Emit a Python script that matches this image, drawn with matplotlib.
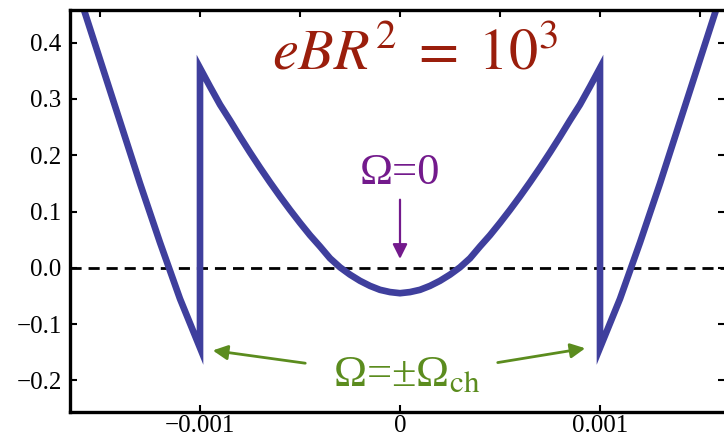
import matplotlib
matplotlib.use("Agg")
import matplotlib.pyplot as plt
import numpy as np

plt.rcParams["mathtext.fontset"] = "stix"
plt.rcParams["font.family"] = ["Liberation Serif", "DejaVu Serif"]

# energy curve, x in units of 1e-3 (left half, right half mirrors it)
x_left = [-1.60, -1.50, -1.40, -1.30, -1.20, -1.10, -1.00,
          -1.00, -0.95, -0.90, -0.85, -0.80, -0.75, -0.70, -0.65, -0.60,
          -0.55, -0.50, -0.45, -0.40, -0.35, -0.30, -0.25, -0.20, -0.15,
          -0.10, -0.05, 0.00]
y_left = [0.480, 0.370, 0.260, 0.150, 0.045, -0.055, -0.142,
          0.355, 0.322, 0.290, 0.262, 0.233, 0.205, 0.178, 0.152, 0.127,
          0.103, 0.080, 0.058, 0.038, 0.017, 0.001, -0.012, -0.023, -0.032,
          -0.039, -0.043, -0.045]
x_right = [0.05, 0.10, 0.15, 0.20, 0.25, 0.30, 0.35, 0.40, 0.45, 0.50,
           0.55, 0.60, 0.65, 0.70, 0.75, 0.80, 0.85, 0.90, 0.95, 1.00,
           1.00, 1.10, 1.20, 1.30, 1.40, 1.50, 1.60]
y_right = [-0.043, -0.039, -0.032, -0.023, -0.012, 0.001, 0.017, 0.038, 0.058, 0.080,
           0.103, 0.127, 0.152, 0.178, 0.205, 0.233, 0.262, 0.290, 0.322, 0.355,
           -0.142, -0.055, 0.045, 0.150, 0.260, 0.370, 0.480]

xs = np.array(x_left + x_right) * 1e-3
ys = np.array(y_left + y_right)

fig = plt.figure(figsize=(7.24, 4.40), dpi=100)
ax = fig.add_axes([70 / 724, 28 / 440, 655 / 724, 402 / 440])

ax.axhline(0, color="black", lw=2, ls=(0, (4, 2.5)), zorder=1)
ax.plot(xs, ys, color="#3f3f9d", lw=4.8, solid_joinstyle="miter", zorder=2)

ax.set_xlim(-1.65e-3, 1.625e-3)
ax.set_ylim(-0.256, 0.458)

ax.set_xticks([-0.001, 0, 0.001])
ax.set_xticklabels(["\u22120.001", "0", "0.001"])
ax.set_xticks([-0.0015, -0.0005, 0.0005, 0.0015], minor=True)
ax.set_yticks([-0.2, -0.1, 0.0, 0.1, 0.2, 0.3, 0.4])
ax.set_yticklabels(["\u22120.2", "\u22120.1", "0.0", "0.1", "0.2", "0.3", "0.4"])
ax.tick_params(which="both", direction="in", length=5, width=1.5,
               top=True, right=True, labelsize=18, pad=6)
ax.tick_params(axis="x", pad=2)
ax.tick_params(which="minor", bottom=False)
for s in ax.spines.values():
    s.set_linewidth(2.4)

ax.text(0.075e-3, 0.378, r"$eBR^{2}\;=\;10^{3}$", color="#9a1e0c", fontsize=42,
        ha="center", va="center")

purple = "#731a8c"
ax.text(0, 0.168, "\u03a9=0", color=purple, fontsize=32,
        ha="center", va="center")
ax.annotate("", xy=(0, 0.011), xytext=(0, 0.126),
            arrowprops=dict(arrowstyle="-|>", color=purple, lw=1.6,
                            mutation_scale=22))

green = "#5b8c1e"
ax.text(0.035e-3, -0.19, "\u03a9=\u00b1\u03a9$_{\\rm ch}$", color=green,
        fontsize=32, ha="center", va="center")
ax.annotate("", xy=(-0.95e-3, -0.146), xytext=(-0.46e-3, -0.170),
            arrowprops=dict(arrowstyle="-|>", color=green, lw=2,
                            mutation_scale=22))
ax.annotate("", xy=(0.94e-3, -0.142), xytext=(0.475e-3, -0.169),
            arrowprops=dict(arrowstyle="-|>", color=green, lw=2,
                            mutation_scale=22))

fig.savefig("out.png", dpi=100)
